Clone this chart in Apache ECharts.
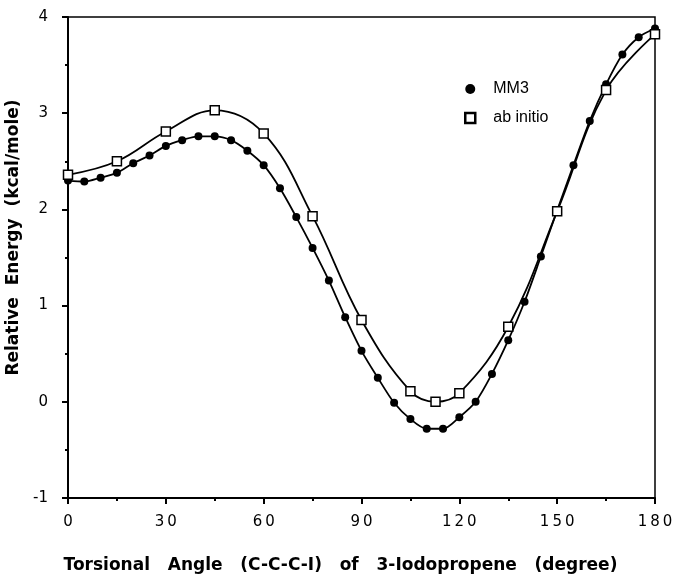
<!DOCTYPE html>
<html>
<head>
<meta charset="utf-8">
<script src="https://cdn.jsdelivr.net/npm/echarts@6/dist/echarts.min.js"></script>
<style>
html,body{margin:0;padding:0;background:#fff;}
#chart{width:673px;height:578px;}
</style>
</head>
<body>
<div id="chart"></div>
<script>
// MM3 torsional energy profile (every 5 degrees)
const mm3Angles = [0,5,10,15,20,25,30,35,40,45,50,55,60,65,70,75,80,85,90,95,100,105,110,115,120,125,130,135,140,145,150,155,160,165,170,175,180];
const mm3Energy = [2.30,2.29,2.33,2.38,2.48,2.56,2.66,2.72,2.76,2.76,2.72,2.61,2.46,2.22,1.92,1.60,1.26,0.88,0.53,0.25,-0.01,-0.18,-0.28,-0.28,-0.16,0.00,0.29,0.64,1.04,1.51,1.99,2.46,2.92,3.30,3.61,3.79,3.88];
// ab initio energies
const abAngles = [0,15,30,45,60,75,90,105,112.7,120,135,150,165,180];
const abEnergy = [2.36,2.50,2.81,3.03,2.79,1.93,0.85,0.11,0.00,0.09,0.78,1.98,3.24,3.82];

const xTicks = [0,30,60,90,120,150,180];
const yTicks = [-1,0,1,2,3,4];

const spaced = v => {
  const s = String(v);
  if (s.startsWith('-')) return '-' + s.slice(1).split('').join('\u2009');
  return s.split('').join('\u2009');
};

const chart = echarts.init(document.getElementById('chart'));
chart.setOption({
  animation:false,
  backgroundColor:'#fff',
  grid:{left:68,right:18,top:17,bottom:80,containLabel:false,outerBoundsMode:'none',show:true,borderColor:'#000',borderWidth:1.5,backgroundColor:'transparent'},
  legend:{
    orient:'vertical', left:459, top:76, itemGap:13, itemWidth:10, itemHeight:10,
    textStyle:{fontFamily:'Liberation Sans, Arial, sans-serif',fontSize:16,color:'#000',padding:[0,0,0,13]},
    data:[
      {name:'MM3',icon:'circle',itemStyle:{color:'#000',borderWidth:0}},
      {name:'ab initio',icon:'rect',itemStyle:{color:'#fff',borderColor:'#000',borderWidth:2.5}}
    ]
  },
  xAxis:{
    type:'value', min:0, max:180, interval:30,
    name:'Torsional   Angle   (C-C-C-I)   of   3-Iodopropene   (degree)',
    nameLocation:'middle', nameGap:59,
    nameTextStyle:{fontFamily:'DejaVu Sans, sans-serif',fontWeight:'bold',fontSize:17,color:'#000',padding:[0,42,0,0]},
    axisLine:{show:true,onZero:false,lineStyle:{color:'#000',width:2}},
    axisTick:{show:true,inside:false,length:6,lineStyle:{color:'#000',width:2}},
    minorTick:{show:true,splitNumber:2,length:3,lineStyle:{color:'#000',width:2}},
    splitLine:{show:false},
    axisLabel:{color:'#000',fontFamily:'DejaVu Sans, sans-serif',fontSize:15,margin:17,formatter:spaced}
  },
  yAxis:{
    type:'value', min:-1, max:4, interval:1,
    name:'Relative  Energy  (kcal/mole)',
    nameLocation:'middle', nameGap:46,
    nameTextStyle:{fontFamily:'DejaVu Sans, sans-serif',fontWeight:'bold',fontSize:17,color:'#000',padding:[0,0,0,40]},
    axisLine:{show:true,onZero:false,lineStyle:{color:'#000',width:2}},
    axisTick:{show:true,inside:false,length:6,lineStyle:{color:'#000',width:2}},
    minorTick:{show:true,splitNumber:2,length:3,lineStyle:{color:'#000',width:2}},
    splitLine:{show:false},
    axisLabel:{color:'#000',fontFamily:'DejaVu Sans, sans-serif',fontSize:15,margin:20,formatter:spaced}
  },
  series:[
    {
      name:'MM3', type:'line', smooth:0.3,
      data:mm3Angles.map((a,i)=>[a,mm3Energy[i]]),
      symbol:'circle', symbolSize:8,
      itemStyle:{color:'#000'},
      lineStyle:{color:'#000',width:1.8},
      z:3
    },
    {
      name:'ab initio', type:'line', smooth:0.4,
      data:abAngles.map((a,i)=>[a,abEnergy[i]]),
      symbol:'rect', symbolSize:9,
      itemStyle:{color:'#fff',borderColor:'#000',borderWidth:1.5},
      lineStyle:{color:'#000',width:1.8},
      z:4
    }
  ]
});
</script>
</body>
</html>
